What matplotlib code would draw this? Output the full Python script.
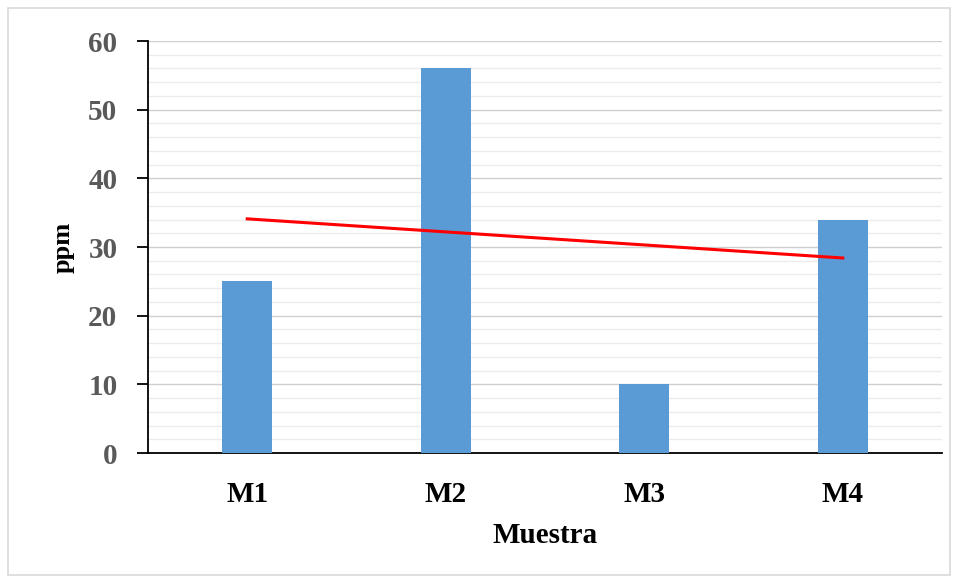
import matplotlib
matplotlib.use("Agg")
import matplotlib.pyplot as plt
import numpy as np
from matplotlib.patches import Rectangle

categories = ["M1", "M2", "M3", "M4"]
values = [25, 56, 10, 34]
y_ticks = [0, 10, 20, 30, 40, 50, 60]

plt.rcParams['font.family'] = ['Liberation Serif', 'DejaVu Serif']

fig = plt.figure(figsize=(9.56, 5.8), dpi=100)
fig.patches.append(Rectangle((8/956, 5/580), 942/956, 567/580, transform=fig.transFigure,
                             fill=False, edgecolor='#d9d9d9', linewidth=1.2))
ax = fig.add_axes([148/956, 1 - 453/580, (942-148)/956, (453-41)/580])

x = np.arange(len(categories))
ax.bar(x, values, width=0.25, color='#5B9BD5', zorder=3)

# linear trendline
coef = np.polyfit(x, values, 1)
ax.plot(x, np.polyval(coef, x), color='#FF0000', linewidth=2.2, zorder=4)

ax.set_xlim(-0.5, 3.5)
ax.set_ylim(0, 60)
ax.set_yticks(y_ticks)
ax.set_yticks(np.arange(0, 61, 2), minor=True)
ax.grid(axis='y', which='major', color='#d0d0d0', linewidth=1.0, zorder=0)
ax.grid(axis='y', which='minor', color='#ececec', linewidth=1.0, zorder=0)
ax.set_xticks(x)
ax.set_xticklabels(categories)

for s in ['top', 'right']:
    ax.spines[s].set_visible(False)
ax.spines['left'].set_color('#000000')
ax.spines['bottom'].set_color('#000000')
ax.spines['left'].set_linewidth(1.3)
ax.spines['bottom'].set_linewidth(1.3)

ax.tick_params(axis='y', which='major', length=8, width=1.3, direction='out',
               labelsize=21, labelcolor='#595959', pad=14)
ax.tick_params(axis='y', which='minor', length=0)
ax.tick_params(axis='x', length=0, labelsize=21, pad=20)
for lbl in ax.get_yticklabels() + ax.get_xticklabels():
    lbl.set_fontweight('bold')

ax.set_ylabel('ppm', fontsize=19, fontweight='bold', labelpad=10)
ax.set_xlabel('Muestra', fontsize=21, fontweight='bold', labelpad=10)

fig.savefig('out.png', dpi=100)
